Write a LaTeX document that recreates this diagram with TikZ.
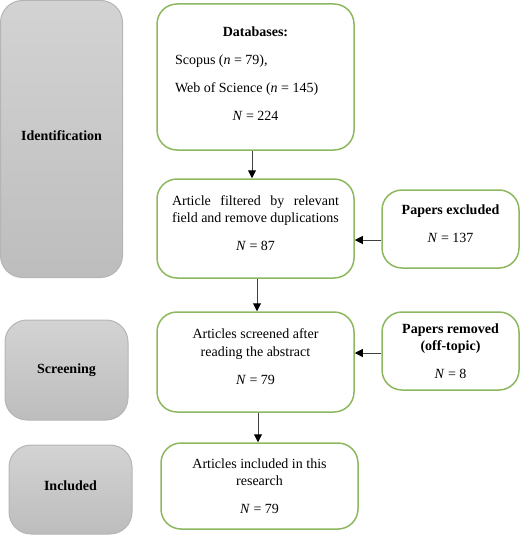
\documentclass[tikz,border=0pt]{standalone}
\usepackage{fontspec}
\setmainfont{Liberation Serif}
\usetikzlibrary{arrows.meta}
\definecolor{boxgreen}{HTML}{8DB85F}
\definecolor{graytop}{HTML}{D3D3D3}
\definecolor{graybot}{HTML}{BDBDBD}
\definecolor{grayline}{HTML}{B5B5B5}
\definecolor{arrowgray}{HTML}{404040}
\newcommand{\lowpad}{\rule[-11pt]{0pt}{11pt}}
\newcommand{\smallpad}{\rule[-7pt]{0pt}{7pt}}
\tikzset{
  greenbox/.style={draw=boxgreen, line width=1.5pt, rounded corners=20pt, fill=white,
    align=center, inner sep=0pt, font=\fontsize{14pt}{17.5pt}\selectfont},
  graybox/.style={draw=grayline, line width=1pt, rounded corners=22pt,
    top color=graytop, bottom color=graybot, inner sep=0pt,
    font=\fontsize{14pt}{17.5pt}\selectfont\bfseries},
  arr/.style={draw=arrowgray, line width=1pt, -{Triangle[length=8pt,width=8pt,fill=black,color=black]}}
}
\begin{document}
\begin{tikzpicture}[x=1pt,y=1pt]
\useasboundingbox (0,0) rectangle (520,-535);
% phase boxes
\node[graybox, minimum width=122pt, minimum height=277pt] (ident) at (61.5,-139) {Identification\smallpad};
\node[graybox, minimum width=123pt, minimum height=100pt] (screen) at (66.5,-370) {Screening};
\node[graybox, minimum width=123pt, minimum height=89pt] (incl) at (70.5,-489.5) {Included\smallpad};
% main flow
\node[greenbox, minimum width=197pt, minimum height=146pt] (db) at (255.5,-77)
  {\textbf{Databases:}\\[10.5pt]
   \makebox[161pt][l]{Scopus (\textit{n} = 79),}\\[10.5pt]
   \makebox[161pt][l]{Web of Science (\textit{n} = 145)}\\[10.5pt]
   \textit{N} = 224\rule[-7pt]{0pt}{7pt}};
\node[greenbox, minimum width=197pt, minimum height=99pt] (filt) at (255.5,-228.5)
  {\makebox[167pt][s]{Article filtered by relevant}\\
   field and remove duplications\\[10.5pt]
   \textit{N} = 87\lowpad};
\node[greenbox, minimum width=137pt, minimum height=78pt] (excl) at (450.5,-229)
  {\textbf{Papers excluded}\\[10.5pt]\textit{N} = 137\lowpad};
\node[greenbox, minimum width=137pt, minimum height=78pt] (rem) at (450.5,-351)
  {\textbf{Papers removed}\\\textbf{(off-topic)}\\[10.5pt]\textit{N} = 8};
\node[greenbox, minimum width=197pt, minimum height=100pt] (scr) at (255.5,-362)
  {Articles screened after\\reading the abstract\\[10.5pt]\textit{N} = 79\lowpad};
\node[greenbox, minimum width=197pt, minimum height=86pt] (inc) at (259.5,-486)
  {Articles included in this\\research\\[10.5pt]\textit{N} = 79};
% connectors
\draw[arr] ([xshift=-3.5pt]db.south) -- ([xshift=-3.5pt]db.south |- filt.north);
\draw[arr] ([xshift=1.5pt]filt.south) -- ([xshift=1.5pt]filt.south |- scr.north);
\draw[arr] ([xshift=2.5pt]scr.south) -- ([xshift=2.5pt]scr.south |- inc.north);
\draw[arr] ([yshift=-11pt]excl.west) -- ([yshift=-11pt]excl.west -| filt.east);
\draw[arr] ([yshift=-2pt]rem.west) -- ([yshift=-2pt]rem.west -| scr.east);
\end{tikzpicture}
\end{document}
